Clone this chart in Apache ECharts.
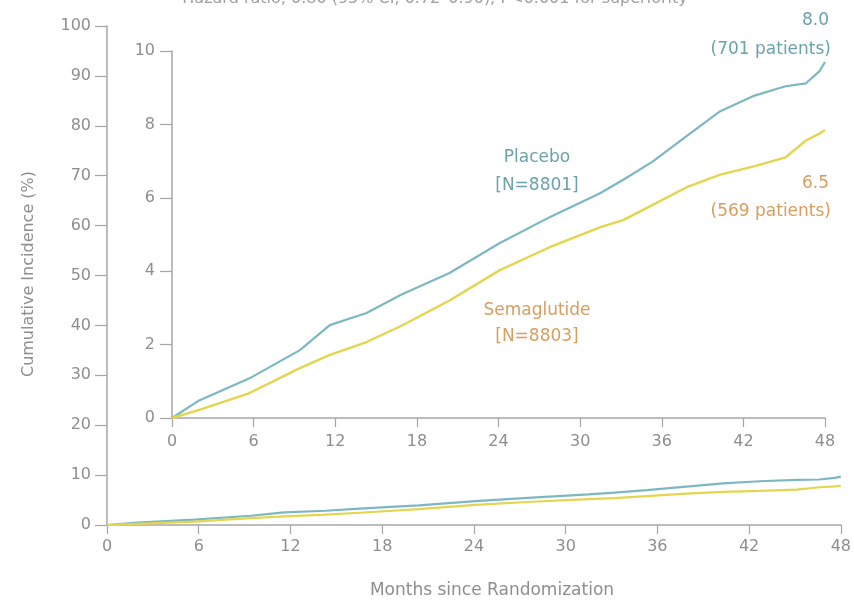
<!DOCTYPE html>
<html>
<head>
<meta charset="utf-8">
<script src="https://cdn.jsdelivr.net/npm/echarts@6/dist/echarts.min.js"></script>
<style>
html,body{margin:0;padding:0;background:#fff;}
#chart{width:854px;height:601px;}
</style>
</head>
<body>
<div id="chart"></div>
<script>
// Data
var months = [0, 2, 5.7, 9.4, 11.6, 14.3, 16.8, 20.4, 24.1, 27.8, 31.5, 33.2, 35.3, 37.9, 40.3, 42.7, 45.1, 46.6, 47.6, 48];
var placeboPct = [0, 0.48, 1.08, 1.85, 2.53, 2.86, 3.35, 3.95, 4.77, 5.48, 6.13, 6.5, 6.98, 7.7, 8.36, 8.77, 9.04, 9.12, 9.45, 9.7];
var semaPct = [0, 0.22, 0.68, 1.36, 1.72, 2.07, 2.5, 3.2, 4.03, 4.66, 5.2, 5.4, 5.8, 6.3, 6.63, 6.85, 7.1, 7.56, 7.75, 7.85];
var mainYTicks = [0, 10, 20, 30, 40, 50, 60, 70, 80, 90, 100];
var insetYTicks = [0, 2, 4, 6, 8, 10];
var xTicks = [0, 6, 12, 18, 24, 30, 36, 42, 48];
var placeboName = 'Placebo';
var placeboN = '[N=8801]';
var semaName = 'Semaglutide';
var semaN = '[N=8803]';
var placeboEnd = ['8.0', '(701 patients)'];
var semaEnd = ['6.5', '(569 patients)'];
var titleText = 'Hazard ratio, 0.80 (95% CI, 0.72\u20130.90); P<0.001 for superiority';
var yTitle = 'Cumulative Incidence (%)';
var xTitle = 'Months since Randomization';

function pairs(xs, ys){ return xs.map(function(x,i){ return [x, ys[i]]; }); }

var FONT = '"DejaVu Sans", "Open Sans", sans-serif';
var GRAY = '#8e8e8e';
var AXIS = '#a6a6a6';
var TEAL = '#7db8c1';
var YELLOW = '#e3d64e';
var TEAL_T = '#6aa3ab';
var ORANGE_T = '#d99d5e';

function xAxis(gi, margin){
  return {
    type: 'value', gridIndex: gi, min: 0, max: 48, interval: 6,
    axisLine: {show: true, lineStyle: {color: AXIS, width: 1.5}},
    axisTick: {show: true, length: 9, lineStyle: {color: AXIS, width: 1.2}},
    axisLabel: {color: GRAY, fontSize: 16, fontFamily: FONT, margin: margin, hideOverlap: false,
      formatter: function(v){ return xTicks.indexOf(v) >= 0 ? String(v) : ''; }},
    splitLine: {show: false}
  };
}
function yAxis(gi, max, interval, ticks, margin){
  return {
    type: 'value', gridIndex: gi, min: 0, max: max, interval: interval,
    axisLine: {show: true, lineStyle: {color: AXIS, width: 1.5}},
    axisTick: {show: true, length: 12, lineStyle: {color: AXIS, width: 1.2}},
    axisLabel: {color: GRAY, fontSize: 16, fontFamily: FONT, margin: margin,
      formatter: function(v){ return ticks.indexOf(v) >= 0 ? String(v) : ''; }},
    splitLine: {show: false}
  };
}

var chart = echarts.init(document.getElementById('chart'), null, {renderer: 'canvas'});
chart.setOption({
  animation: false,
  backgroundColor: '#ffffff',
  grid: [
    {left: 107, right: 7, top: 26, bottom: 76},
    {left: 172, right: 29, top: 51, bottom: 183}
  ],
  xAxis: [xAxis(0, 14), xAxis(1, 16)],
  yAxis: [yAxis(0, 100, 10, mainYTicks, 16), yAxis(1, 10, 2, insetYTicks, 17)],
  series: [
    {type: 'line', xAxisIndex: 0, yAxisIndex: 0, data: pairs(months, placeboPct), showSymbol: false,
      lineStyle: {color: TEAL, width: 2.2}, z: 3},
    {type: 'line', xAxisIndex: 0, yAxisIndex: 0, data: pairs(months, semaPct), showSymbol: false,
      lineStyle: {color: YELLOW, width: 2.2}, z: 4},
    {type: 'line', xAxisIndex: 1, yAxisIndex: 1, data: pairs(months, placeboPct), showSymbol: false,
      lineStyle: {color: TEAL, width: 2.2}, z: 3},
    {type: 'line', xAxisIndex: 1, yAxisIndex: 1, data: pairs(months, semaPct), showSymbol: false,
      lineStyle: {color: YELLOW, width: 2.4}, z: 4}
  ],
  graphic: [
    {type: 'text', style: {text: titleText, x: 435, y: -1, align: 'center', verticalAlign: 'middle',
      fill: '#a0a0a0', font: '16px ' + FONT}},
    {type: 'text', style: {text: yTitle, x: 0, y: 0, align: 'center', verticalAlign: 'middle', fill: GRAY, font: '16px ' + FONT},
      x: 29, y: 274, rotation: Math.PI / 2},
    {type: 'text', style: {text: xTitle, x: 492, y: 591, align: 'center', verticalAlign: 'middle', fill: GRAY, font: '17px ' + FONT}},
    {type: 'text', style: {text: placeboName, x: 537, y: 158, align: 'center', verticalAlign: 'middle', fill: TEAL_T, font: '17px ' + FONT}},
    {type: 'text', style: {text: placeboN, x: 537, y: 186, align: 'center', verticalAlign: 'middle', fill: TEAL_T, font: '17px ' + FONT}},
    {type: 'text', style: {text: semaName, x: 537, y: 311, align: 'center', verticalAlign: 'middle', fill: ORANGE_T, font: '17px ' + FONT}},
    {type: 'text', style: {text: semaN, x: 537, y: 337, align: 'center', verticalAlign: 'middle', fill: ORANGE_T, font: '17px ' + FONT}},
    {type: 'text', style: {text: placeboEnd[0], x: 829, y: 21, align: 'right', verticalAlign: 'middle', fill: TEAL_T, font: '17px ' + FONT}},
    {type: 'text', style: {text: placeboEnd[1], x: 831, y: 50, align: 'right', verticalAlign: 'middle', fill: TEAL_T, font: '17px ' + FONT}},
    {type: 'text', style: {text: semaEnd[0], x: 829, y: 184, align: 'right', verticalAlign: 'middle', fill: ORANGE_T, font: '17px ' + FONT}},
    {type: 'text', style: {text: semaEnd[1], x: 831, y: 212, align: 'right', verticalAlign: 'middle', fill: ORANGE_T, font: '17px ' + FONT}}
  ]
});
</script>
</body>
</html>
